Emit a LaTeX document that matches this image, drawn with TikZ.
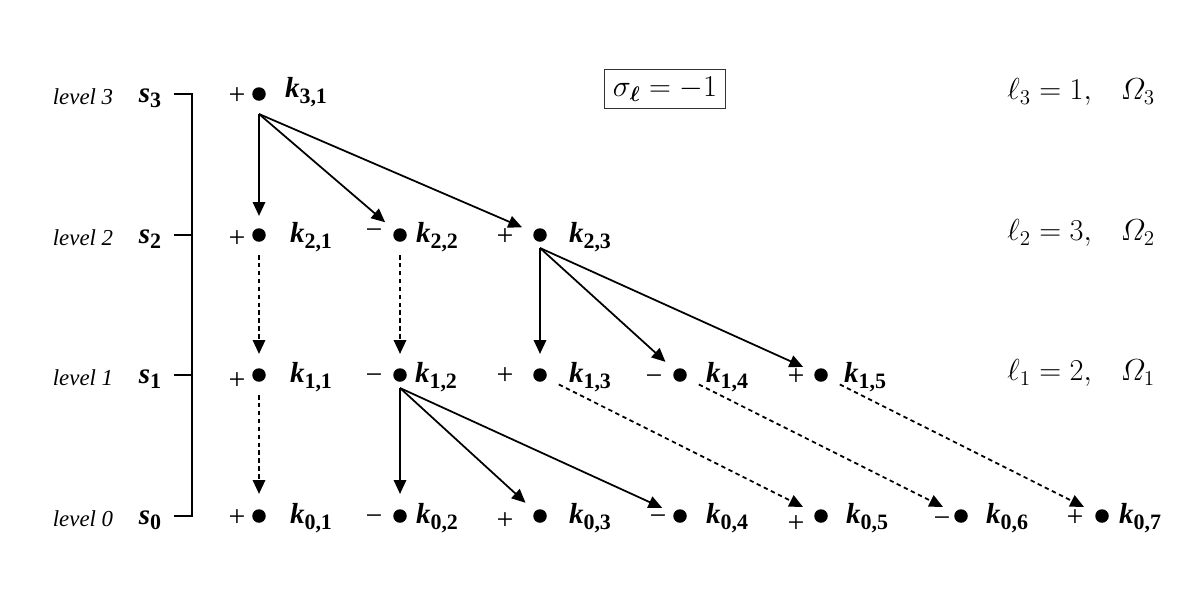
\documentclass[tikz,border=0pt]{standalone}
\usepackage{fontspec}
\setmainfont{Liberation Serif}
\usepackage{bm}
\usetikzlibrary{arrows.meta,calc}
\newcommand{\kl}[2]{\textbf{\textit{k}\raisebox{-0.5ex}{\fontsize{12.5}{13}\selectfont #1,#2}}}
\begin{document}
\begin{tikzpicture}[x=0.02cm,y=-0.02cm,
  dotn/.style={circle,fill=black,inner sep=0pt,minimum size=0.27cm},
  sgn/.style={font=\fontsize{17}{18}\selectfont,inner sep=0pt,text height=0.66em,text depth=0pt,yshift=-0.06cm},
  klab/.style={font=\fontsize{16.5}{18}\selectfont,inner sep=0pt},
  lvl/.style={font=\fontsize{13}{14}\selectfont\itshape,inner sep=0pt},
  slab/.style={font=\fontsize{16.5}{17}\selectfont\bfseries\itshape,inner sep=0pt},
  rlab/.style={font=\fontsize{17}{19}\selectfont,inner sep=0pt,anchor=west},
  arr/.style={line width=1pt,-{Triangle[length=7.8pt,width=7pt]}},
  darr/.style={arr,dash pattern=on 2.5pt off 2pt},
  brk/.style={line width=1.2pt}]
\useasboundingbox (0,0) rectangle (1200,600);
% level labels
\foreach \l/\y in {3/94,2/235,1/375,0/516}{
  \node[lvl] (lv\l) at (83,\y+3) {level \l};
  \node[slab] (s\l) at (150,\y+4) {s\raisebox{-0.4ex}{\fontsize{12.5}{13}\selectfont\upshape\l}};
  \coordinate (t\l) at (174,\y);
}
\coordinate (b3) at (192,94);
\coordinate (b0) at (192,516);
\draw[brk] (t3) -- (b3) -- (b0) -- (t0);
\draw[brk] (t2) -- (192,235);
\draw[brk] (t1) -- (192,375);
% dots
\node[dotn] (k31) at (259,94) {};
\node[dotn] (k21) at (259,235) {};
\node[dotn] (k22) at (400,235) {};
\node[dotn] (k23) at (540,235) {};
\node[dotn] (k11) at (259,375) {};
\node[dotn] (k12) at (400,375) {};
\node[dotn] (k13) at (540,375) {};
\node[dotn] (k14) at (680,375) {};
\node[dotn] (k15) at (821,375) {};
\node[dotn] (k01) at (259,516) {};
\node[dotn] (k02) at (400,516) {};
\node[dotn] (k03) at (540,516) {};
\node[dotn] (k04) at (680,516) {};
\node[dotn] (k05) at (821,516) {};
\node[dotn] (k06) at (961,516) {};
\node[dotn] (k07) at (1102,516) {};
% signs
\node[sgn] (p31) at (237,96) {+};
\node[sgn] (p21) at (237,239) {+};
\node[sgn] (p22) at (374,231) {−};
\node[sgn] (p23) at (505,237) {+};
\node[sgn] (p11) at (237,381) {+};
\node[sgn] (p12) at (374,376) {−};
\node[sgn] (p13) at (505,376) {+};
\node[sgn] (p14) at (654,377) {−};
\node[sgn] (p15) at (796,377) {+};
\node[sgn] (p01) at (237,518) {+};
\node[sgn] (p02) at (374,517) {−};
\node[sgn] (p03) at (505,521) {+};
\node[sgn] (p04) at (658,517) {−};
\node[sgn] (p05) at (796,524) {+};
\node[sgn] (p06) at (942,519) {−};
\node[sgn] (p07) at (1075,518) {+};
% k labels
\node[klab] (l31) at (306,92) {\kl{3}{1}};
\node[klab] (l21) at (311,237) {\kl{2}{1}};
\node[klab] (l22) at (437,237) {\kl{2}{2}};
\node[klab] (l23) at (590,237) {\kl{2}{3}};
\node[klab] (l11) at (311,377) {\kl{1}{1}};
\node[klab] (l12) at (436,377) {\kl{1}{2}};
\node[klab] (l13) at (590,377) {\kl{1}{3}};
\node[klab] (l14) at (727,377) {\kl{1}{4}};
\node[klab] (l15) at (865,377) {\kl{1}{5}};
\node[klab] (l01) at (311,518) {\kl{0}{1}};
\node[klab] (l02) at (437,518) {\kl{0}{2}};
\node[klab] (l03) at (590,518) {\kl{0}{3}};
\node[klab] (l04) at (727,518) {\kl{0}{4}};
\node[klab] (l05) at (867,518) {\kl{0}{5}};
\node[klab] (l06) at (1007,518) {\kl{0}{6}};
\node[klab] (l07) at (1140,518) {\kl{0}{7}};
% box
\node[draw=black!80,line width=0.6pt,inner xsep=5pt,inner ysep=4pt,font=\fontsize{17.5}{19}\selectfont] (sig) at (665,89) {$\sigma_{\bm\ell}=-1$};
% right labels
\node[rlab] (r3) at (1007,92) {$\ell_3=1,\hspace{0.8em}\mathnormal{\Omega}_3$};
\node[rlab] (r2) at (1007,233) {$\ell_2=3,\hspace{0.8em}\mathnormal{\Omega}_2$};
\node[rlab] (r1) at (1007,373) {$\ell_1=2,\hspace{0.8em}\mathnormal{\Omega}_1$};
% fan origins
\coordinate (o31) at ($(k31)+(0,20)$);
\coordinate (o23) at ($(k23)+(0,13)$);
\coordinate (o12) at ($(k12)+(0,13)$);
% solid arrows
\draw[arr,shorten >=0.24cm] (o31) -- (k21);
\draw[arr,shorten >=0.25cm] (o31) -- (k22);
\draw[arr,shorten >=0.25cm] (o31) -- (k23);
\draw[arr,shorten >=0.28cm] (o23) -- (k13);
\draw[arr,shorten >=0.25cm] (o23) -- (k14);
\draw[arr,shorten >=0.25cm] (o23) -- (k15);
\draw[arr,shorten >=0.3cm] (o12) -- (k02);
\draw[arr,shorten >=0.25cm] (o12) -- (k03);
\draw[arr,shorten >=0.25cm] (o12) -- (k04);
% dotted arrows
\draw[darr,shorten <=0.26cm,shorten >=0.28cm] (k21) -- (k11);
\draw[darr,shorten <=0.26cm,shorten >=0.28cm] (k22) -- (k12);
\draw[darr,shorten <=0.26cm,shorten >=0.3cm] (k11) -- (k01);
\draw[darr,shorten <=0.28cm,shorten >=0.26cm] (k13) -- (k05);
\draw[darr,shorten <=0.28cm,shorten >=0.26cm] (k14) -- (k06);
\draw[darr,shorten <=0.28cm,shorten >=0.26cm] (k15) -- (k07);
\end{tikzpicture}
\end{document}
